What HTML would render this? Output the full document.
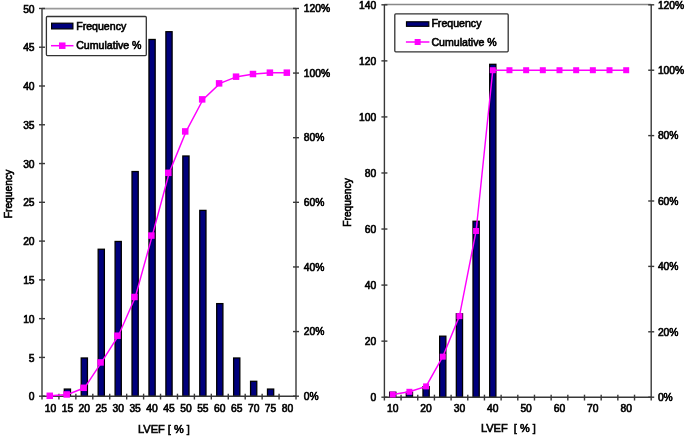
<!DOCTYPE html>
<html><head><meta charset="utf-8"><title>LVEF histograms</title>
<style>
html,body{margin:0;padding:0;background:#fff;}
body{width:685px;height:438px;overflow:hidden;}
svg{display:block;filter:blur(0.4px);font-family:"Liberation Sans",sans-serif;font-size:10.3px;font-weight:normal;fill:#000;}
svg text{stroke:#000;stroke-width:0.62px;}
</style></head>
<body>
<svg width="685" height="438" viewBox="0 0 685 438">
<rect width="685" height="438" fill="#fff"/>
<line x1="42" y1="8.65" x2="296" y2="8.65" stroke="#9a9a9a" stroke-width="1.6"/>
<rect x="64.3" y="389.08" width="6.2" height="7.12" fill="#00007c" stroke="#000000" stroke-width="1.3"/>
<rect x="81.23" y="358" width="6.2" height="38.2" fill="#00007c" stroke="#000000" stroke-width="1.3"/>
<rect x="98.17" y="249.24" width="6.2" height="146.96" fill="#00007c" stroke="#000000" stroke-width="1.3"/>
<rect x="115.1" y="241.47" width="6.2" height="154.73" fill="#00007c" stroke="#000000" stroke-width="1.3"/>
<rect x="132.03" y="171.55" width="6.2" height="224.65" fill="#00007c" stroke="#000000" stroke-width="1.3"/>
<rect x="148.97" y="39.48" width="6.2" height="356.72" fill="#00007c" stroke="#000000" stroke-width="1.3"/>
<rect x="165.9" y="31.71" width="6.2" height="364.49" fill="#00007c" stroke="#000000" stroke-width="1.3"/>
<rect x="182.83" y="156.01" width="6.2" height="240.19" fill="#00007c" stroke="#000000" stroke-width="1.3"/>
<rect x="199.77" y="210.39" width="6.2" height="185.81" fill="#00007c" stroke="#000000" stroke-width="1.3"/>
<rect x="216.7" y="303.62" width="6.2" height="92.58" fill="#00007c" stroke="#000000" stroke-width="1.3"/>
<rect x="233.63" y="358" width="6.2" height="38.2" fill="#00007c" stroke="#000000" stroke-width="1.3"/>
<rect x="250.57" y="381.31" width="6.2" height="14.89" fill="#00007c" stroke="#000000" stroke-width="1.3"/>
<rect x="267.5" y="389.08" width="6.2" height="7.12" fill="#00007c" stroke="#000000" stroke-width="1.3"/>
<line x1="42" y1="8.45" x2="42" y2="399.5" stroke="#383838" stroke-width="1.4"/>
<line x1="296" y1="8.45" x2="296" y2="399.5" stroke="#383838" stroke-width="1.4"/>
<line x1="42" y1="396.2" x2="296" y2="396.2" stroke="#383838" stroke-width="1.4"/>
<line x1="39" y1="396.2" x2="45" y2="396.2" stroke="#383838" stroke-width="1.4"/>
<text x="34.6" y="400.31" text-anchor="end">0</text>
<line x1="39" y1="357.43" x2="45" y2="357.43" stroke="#383838" stroke-width="1.4"/>
<text x="34.6" y="361.53" text-anchor="end">5</text>
<line x1="39" y1="318.65" x2="45" y2="318.65" stroke="#383838" stroke-width="1.4"/>
<text x="34.6" y="322.76" text-anchor="end">10</text>
<line x1="39" y1="279.88" x2="45" y2="279.88" stroke="#383838" stroke-width="1.4"/>
<text x="34.6" y="283.98" text-anchor="end">15</text>
<line x1="39" y1="241.1" x2="45" y2="241.1" stroke="#383838" stroke-width="1.4"/>
<text x="34.6" y="245.21" text-anchor="end">20</text>
<line x1="39" y1="202.32" x2="45" y2="202.32" stroke="#383838" stroke-width="1.4"/>
<text x="34.6" y="206.43" text-anchor="end">25</text>
<line x1="39" y1="163.55" x2="45" y2="163.55" stroke="#383838" stroke-width="1.4"/>
<text x="34.6" y="167.66" text-anchor="end">30</text>
<line x1="39" y1="124.77" x2="45" y2="124.77" stroke="#383838" stroke-width="1.4"/>
<text x="34.6" y="128.88" text-anchor="end">35</text>
<line x1="39" y1="86" x2="45" y2="86" stroke="#383838" stroke-width="1.4"/>
<text x="34.6" y="90.11" text-anchor="end">40</text>
<line x1="39" y1="47.22" x2="45" y2="47.22" stroke="#383838" stroke-width="1.4"/>
<text x="34.6" y="51.33" text-anchor="end">45</text>
<line x1="39" y1="8.45" x2="45" y2="8.45" stroke="#383838" stroke-width="1.4"/>
<text x="34.6" y="12.56" text-anchor="end">50</text>
<line x1="293" y1="396.2" x2="299" y2="396.2" stroke="#383838" stroke-width="1.4"/>
<text x="303.8" y="399.91">0%</text>
<line x1="293" y1="331.57" x2="299" y2="331.57" stroke="#383838" stroke-width="1.4"/>
<text x="303.8" y="335.28">20%</text>
<line x1="293" y1="266.95" x2="299" y2="266.95" stroke="#383838" stroke-width="1.4"/>
<text x="303.8" y="270.66">40%</text>
<line x1="293" y1="202.32" x2="299" y2="202.32" stroke="#383838" stroke-width="1.4"/>
<text x="303.8" y="206.03">60%</text>
<line x1="293" y1="137.7" x2="299" y2="137.7" stroke="#383838" stroke-width="1.4"/>
<text x="303.8" y="141.41">80%</text>
<line x1="293" y1="73.07" x2="299" y2="73.07" stroke="#383838" stroke-width="1.4"/>
<text x="303.8" y="76.78">100%</text>
<line x1="293" y1="8.45" x2="299" y2="8.45" stroke="#383838" stroke-width="1.4"/>
<text x="303.8" y="12.16">120%</text>
<line x1="58.93" y1="393.7" x2="58.93" y2="399.5" stroke="#383838" stroke-width="1.4"/>
<line x1="75.87" y1="393.7" x2="75.87" y2="399.5" stroke="#383838" stroke-width="1.4"/>
<line x1="92.8" y1="393.7" x2="92.8" y2="399.5" stroke="#383838" stroke-width="1.4"/>
<line x1="109.73" y1="393.7" x2="109.73" y2="399.5" stroke="#383838" stroke-width="1.4"/>
<line x1="126.67" y1="393.7" x2="126.67" y2="399.5" stroke="#383838" stroke-width="1.4"/>
<line x1="143.6" y1="393.7" x2="143.6" y2="399.5" stroke="#383838" stroke-width="1.4"/>
<line x1="160.53" y1="393.7" x2="160.53" y2="399.5" stroke="#383838" stroke-width="1.4"/>
<line x1="177.47" y1="393.7" x2="177.47" y2="399.5" stroke="#383838" stroke-width="1.4"/>
<line x1="194.4" y1="393.7" x2="194.4" y2="399.5" stroke="#383838" stroke-width="1.4"/>
<line x1="211.33" y1="393.7" x2="211.33" y2="399.5" stroke="#383838" stroke-width="1.4"/>
<line x1="228.27" y1="393.7" x2="228.27" y2="399.5" stroke="#383838" stroke-width="1.4"/>
<line x1="245.2" y1="393.7" x2="245.2" y2="399.5" stroke="#383838" stroke-width="1.4"/>
<line x1="262.13" y1="393.7" x2="262.13" y2="399.5" stroke="#383838" stroke-width="1.4"/>
<line x1="279.07" y1="393.7" x2="279.07" y2="399.5" stroke="#383838" stroke-width="1.4"/>
<text x="50.47" y="412.01" text-anchor="middle">10</text>
<text x="67.4" y="412.01" text-anchor="middle">15</text>
<text x="84.33" y="412.01" text-anchor="middle">20</text>
<text x="101.27" y="412.01" text-anchor="middle">25</text>
<text x="118.2" y="412.01" text-anchor="middle">30</text>
<text x="135.13" y="412.01" text-anchor="middle">35</text>
<text x="152.07" y="412.01" text-anchor="middle">40</text>
<text x="169" y="412.01" text-anchor="middle">45</text>
<text x="185.93" y="412.01" text-anchor="middle">50</text>
<text x="202.87" y="412.01" text-anchor="middle">55</text>
<text x="219.8" y="412.01" text-anchor="middle">60</text>
<text x="236.73" y="412.01" text-anchor="middle">65</text>
<text x="253.67" y="412.01" text-anchor="middle">70</text>
<text x="270.6" y="412.01" text-anchor="middle">75</text>
<text x="287.53" y="412.01" text-anchor="middle">80</text>
<polyline fill="none" stroke="#ff00ff" stroke-width="1.45" points="50.67,395.8 67.6,394.46 84.53,387.79 101.47,362.42 118.4,335.71 135.33,296.99 152.27,235.57 169.2,172.82 186.13,131.42 203.07,99.38 220,83.36 236.93,76.68 253.87,74.01 270.8,72.67 287.73,72.67"/>
<rect x="46.52" y="392.55" width="6.5" height="6.5" fill="#ff00ff"/>
<rect x="63.45" y="391.21" width="6.5" height="6.5" fill="#ff00ff"/>
<rect x="80.38" y="384.54" width="6.5" height="6.5" fill="#ff00ff"/>
<rect x="97.32" y="359.17" width="6.5" height="6.5" fill="#ff00ff"/>
<rect x="114.25" y="332.46" width="6.5" height="6.5" fill="#ff00ff"/>
<rect x="131.18" y="293.74" width="6.5" height="6.5" fill="#ff00ff"/>
<rect x="148.12" y="232.32" width="6.5" height="6.5" fill="#ff00ff"/>
<rect x="165.05" y="169.57" width="6.5" height="6.5" fill="#ff00ff"/>
<rect x="181.98" y="128.17" width="6.5" height="6.5" fill="#ff00ff"/>
<rect x="198.92" y="96.13" width="6.5" height="6.5" fill="#ff00ff"/>
<rect x="215.85" y="80.11" width="6.5" height="6.5" fill="#ff00ff"/>
<rect x="232.78" y="73.43" width="6.5" height="6.5" fill="#ff00ff"/>
<rect x="249.72" y="70.76" width="6.5" height="6.5" fill="#ff00ff"/>
<rect x="266.65" y="69.42" width="6.5" height="6.5" fill="#ff00ff"/>
<rect x="283.58" y="69.42" width="6.5" height="6.5" fill="#ff00ff"/>
<text x="163.9" y="433.16" text-anchor="middle" font-size="11" font-weight="normal" xml:space="preserve">LVEF [ % ]</text>
<text transform="translate(8.2,194) rotate(-90)" x="0" y="3.71" text-anchor="middle" font-size="10.3" font-weight="normal">Frequency</text>
<rect x="46.4" y="16.5" width="99.9" height="39.1" rx="1" fill="#fff" stroke="#333" stroke-width="1.3"/>
<rect x="51.6" y="23.2" width="21.3" height="5.7" fill="#00007c" stroke="#000" stroke-width="1.2"/>
<line x1="51" y1="45.7" x2="73.5" y2="45.7" stroke="#ff00ff" stroke-width="1.5"/>
<rect x="59" y="42.45" width="6.5" height="6.5" fill="#ff00ff"/>
<text x="76.2" y="30.12" font-size="10.6" font-weight="normal">Frequency</text>
<text x="76.2" y="49.32" font-size="10.6" font-weight="normal">Cumulative %</text>
<line x1="384.4" y1="4.45" x2="651.2" y2="4.45" stroke="#888888" stroke-width="1.4"/>
<rect x="389.64" y="392.24" width="6.2" height="4.96" fill="#00007c" stroke="#000000" stroke-width="1.3"/>
<rect x="406.31" y="392.24" width="6.2" height="4.96" fill="#00007c" stroke="#000000" stroke-width="1.3"/>
<rect x="422.99" y="386.64" width="6.2" height="10.56" fill="#00007c" stroke="#000000" stroke-width="1.3"/>
<rect x="439.66" y="336.19" width="6.2" height="61.01" fill="#00007c" stroke="#000000" stroke-width="1.3"/>
<rect x="456.34" y="313.77" width="6.2" height="83.43" fill="#00007c" stroke="#000000" stroke-width="1.3"/>
<rect x="473.01" y="221.27" width="6.2" height="175.93" fill="#00007c" stroke="#000000" stroke-width="1.3"/>
<rect x="489.69" y="64.32" width="6.2" height="332.88" fill="#00007c" stroke="#000000" stroke-width="1.3"/>
<line x1="384.4" y1="4.81" x2="384.4" y2="400.5" stroke="#383838" stroke-width="1.4"/>
<line x1="651.2" y1="4.81" x2="651.2" y2="400.5" stroke="#383838" stroke-width="1.4"/>
<line x1="384.4" y1="397.2" x2="651.2" y2="397.2" stroke="#383838" stroke-width="1.4"/>
<line x1="381.4" y1="397.2" x2="387.4" y2="397.2" stroke="#383838" stroke-width="1.4"/>
<text x="376.2" y="401.21" text-anchor="end">0</text>
<line x1="381.4" y1="341.14" x2="387.4" y2="341.14" stroke="#383838" stroke-width="1.4"/>
<text x="376.2" y="345.15" text-anchor="end">20</text>
<line x1="381.4" y1="285.09" x2="387.4" y2="285.09" stroke="#383838" stroke-width="1.4"/>
<text x="376.2" y="289.1" text-anchor="end">40</text>
<line x1="381.4" y1="229.03" x2="387.4" y2="229.03" stroke="#383838" stroke-width="1.4"/>
<text x="376.2" y="233.04" text-anchor="end">60</text>
<line x1="381.4" y1="172.98" x2="387.4" y2="172.98" stroke="#383838" stroke-width="1.4"/>
<text x="376.2" y="176.99" text-anchor="end">80</text>
<line x1="381.4" y1="116.92" x2="387.4" y2="116.92" stroke="#383838" stroke-width="1.4"/>
<text x="376.2" y="120.93" text-anchor="end">100</text>
<line x1="381.4" y1="60.87" x2="387.4" y2="60.87" stroke="#383838" stroke-width="1.4"/>
<text x="376.2" y="64.87" text-anchor="end">120</text>
<line x1="381.4" y1="4.81" x2="387.4" y2="4.81" stroke="#383838" stroke-width="1.4"/>
<text x="376.2" y="8.82" text-anchor="end">140</text>
<line x1="648.2" y1="397.2" x2="654.2" y2="397.2" stroke="#383838" stroke-width="1.4"/>
<text x="657.9" y="400.91">0%</text>
<line x1="648.2" y1="331.8" x2="654.2" y2="331.8" stroke="#383838" stroke-width="1.4"/>
<text x="657.9" y="335.51">20%</text>
<line x1="648.2" y1="266.4" x2="654.2" y2="266.4" stroke="#383838" stroke-width="1.4"/>
<text x="657.9" y="270.11">40%</text>
<line x1="648.2" y1="201" x2="654.2" y2="201" stroke="#383838" stroke-width="1.4"/>
<text x="657.9" y="204.71">60%</text>
<line x1="648.2" y1="135.61" x2="654.2" y2="135.61" stroke="#383838" stroke-width="1.4"/>
<text x="657.9" y="139.31">80%</text>
<line x1="648.2" y1="70.21" x2="654.2" y2="70.21" stroke="#383838" stroke-width="1.4"/>
<text x="657.9" y="73.92">100%</text>
<line x1="648.2" y1="4.81" x2="654.2" y2="4.81" stroke="#383838" stroke-width="1.4"/>
<text x="657.9" y="8.52">120%</text>
<line x1="401.07" y1="394.7" x2="401.07" y2="400.5" stroke="#383838" stroke-width="1.4"/>
<line x1="417.75" y1="394.7" x2="417.75" y2="400.5" stroke="#383838" stroke-width="1.4"/>
<line x1="434.43" y1="394.7" x2="434.43" y2="400.5" stroke="#383838" stroke-width="1.4"/>
<line x1="451.1" y1="394.7" x2="451.1" y2="400.5" stroke="#383838" stroke-width="1.4"/>
<line x1="467.77" y1="394.7" x2="467.77" y2="400.5" stroke="#383838" stroke-width="1.4"/>
<line x1="484.45" y1="394.7" x2="484.45" y2="400.5" stroke="#383838" stroke-width="1.4"/>
<line x1="501.12" y1="394.7" x2="501.12" y2="400.5" stroke="#383838" stroke-width="1.4"/>
<line x1="517.8" y1="394.7" x2="517.8" y2="400.5" stroke="#383838" stroke-width="1.4"/>
<line x1="534.48" y1="394.7" x2="534.48" y2="400.5" stroke="#383838" stroke-width="1.4"/>
<line x1="551.15" y1="394.7" x2="551.15" y2="400.5" stroke="#383838" stroke-width="1.4"/>
<line x1="567.83" y1="394.7" x2="567.83" y2="400.5" stroke="#383838" stroke-width="1.4"/>
<line x1="584.5" y1="394.7" x2="584.5" y2="400.5" stroke="#383838" stroke-width="1.4"/>
<line x1="601.18" y1="394.7" x2="601.18" y2="400.5" stroke="#383838" stroke-width="1.4"/>
<line x1="617.85" y1="394.7" x2="617.85" y2="400.5" stroke="#383838" stroke-width="1.4"/>
<line x1="634.53" y1="394.7" x2="634.53" y2="400.5" stroke="#383838" stroke-width="1.4"/>
<text x="392.74" y="412.21" text-anchor="middle">10</text>
<text x="426.09" y="412.21" text-anchor="middle">20</text>
<text x="459.44" y="412.21" text-anchor="middle">30</text>
<text x="492.79" y="412.21" text-anchor="middle">40</text>
<text x="526.14" y="412.21" text-anchor="middle">50</text>
<text x="559.49" y="412.21" text-anchor="middle">60</text>
<text x="592.84" y="412.21" text-anchor="middle">70</text>
<text x="626.19" y="412.21" text-anchor="middle">80</text>
<polyline fill="none" stroke="#ff00ff" stroke-width="1.45" points="392.74,394.5 409.41,391.8 426.09,386.39 442.76,356.66 459.44,316.13 476.11,231 492.79,70.21 509.46,70.21 526.14,70.21 542.81,70.21 559.49,70.21 576.16,70.21 592.84,70.21 609.51,70.21 626.19,70.21"/>
<rect x="389.74" y="391.5" width="6" height="6" fill="#ff00ff"/>
<rect x="406.41" y="388.8" width="6" height="6" fill="#ff00ff"/>
<rect x="423.09" y="383.39" width="6" height="6" fill="#ff00ff"/>
<rect x="439.76" y="353.66" width="6" height="6" fill="#ff00ff"/>
<rect x="456.44" y="313.13" width="6" height="6" fill="#ff00ff"/>
<rect x="473.11" y="228" width="6" height="6" fill="#ff00ff"/>
<rect x="489.79" y="67.21" width="6" height="6" fill="#ff00ff"/>
<rect x="506.46" y="67.21" width="6" height="6" fill="#ff00ff"/>
<rect x="523.14" y="67.21" width="6" height="6" fill="#ff00ff"/>
<rect x="539.81" y="67.21" width="6" height="6" fill="#ff00ff"/>
<rect x="556.49" y="67.21" width="6" height="6" fill="#ff00ff"/>
<rect x="573.16" y="67.21" width="6" height="6" fill="#ff00ff"/>
<rect x="589.84" y="67.21" width="6" height="6" fill="#ff00ff"/>
<rect x="606.51" y="67.21" width="6" height="6" fill="#ff00ff"/>
<rect x="623.19" y="67.21" width="6" height="6" fill="#ff00ff"/>
<text x="508.4" y="432.26" text-anchor="middle" font-size="11" font-weight="normal" xml:space="preserve">LVEF&#160; [ % ]</text>
<text transform="translate(347.2,202.5) rotate(-90)" x="0" y="3.71" text-anchor="middle" font-size="10.3" font-weight="normal">Frequency</text>
<rect x="394.8" y="13.9" width="113.4" height="37.9" rx="1" fill="#fff" stroke="#333" stroke-width="1.3"/>
<rect x="406.5" y="21.8" width="22.3" height="4.5" fill="#00007c" stroke="#000" stroke-width="1.2"/>
<line x1="405.9" y1="42" x2="429.4" y2="42" stroke="#ff00ff" stroke-width="1.5"/>
<rect x="414.65" y="39" width="6" height="6" fill="#ff00ff"/>
<text x="431.4" y="27.12" font-size="10.6" font-weight="normal">Frequency</text>
<text x="431.4" y="45.82" font-size="10.6" font-weight="normal">Cumulative %</text>
</svg>
</body></html>
